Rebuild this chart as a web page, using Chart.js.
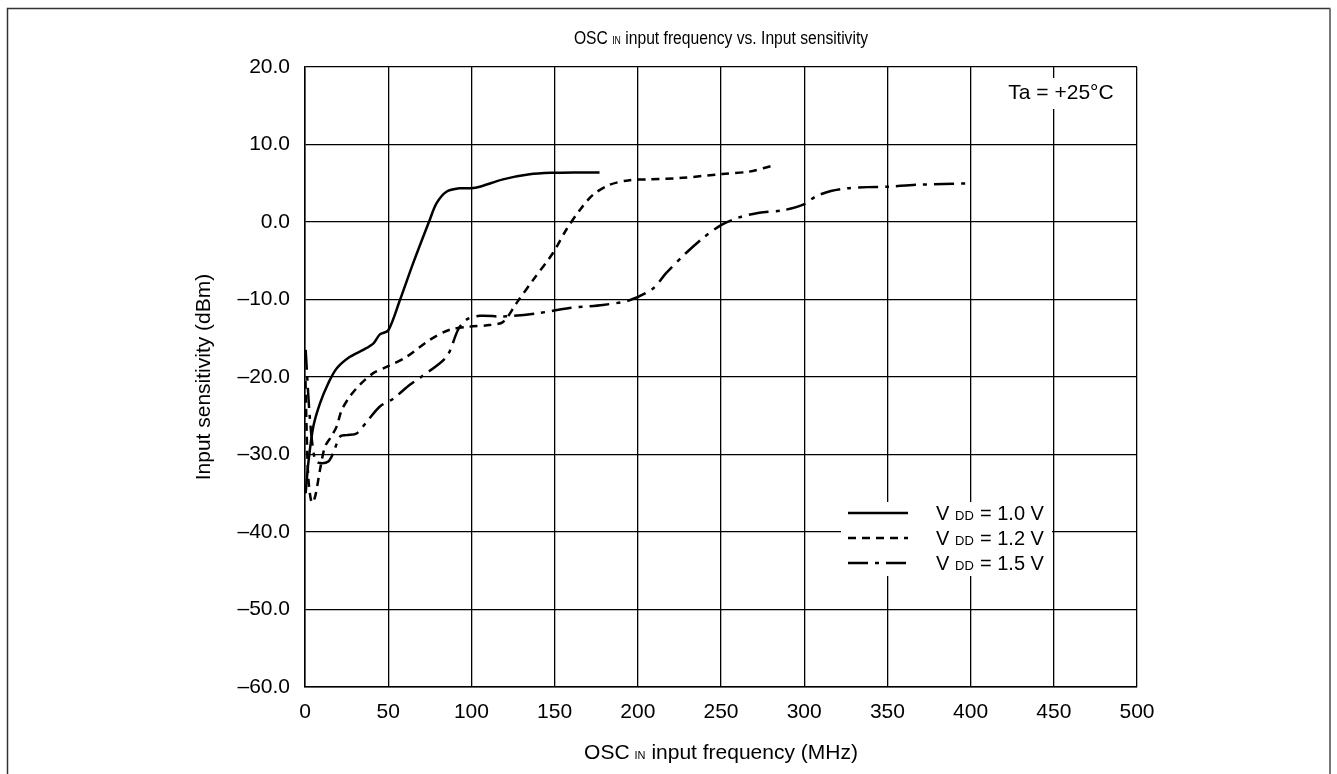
<!DOCTYPE html>
<html>
<head>
<meta charset="utf-8">
<script src="https://cdn.jsdelivr.net/npm/chart.js@4/dist/chart.umd.min.js"></script>
<style>
  html, body { margin: 0; padding: 0; background: #fff; }
  #wrap { width: 1337px; height: 774px; }
</style>
</head>
<body>
<div id="wrap"><canvas id="sensChart" width="1337" height="774"></canvas></div>
<script>
'use strict';

// values (MHz, dBm)
const vdd10Freq = [0.4, 2, 5, 9, 14, 19, 27, 35, 41, 45, 50, 57, 65, 75, 79, 85, 93, 100, 105, 119, 135, 149, 163, 177];
const vdd10Sens = [-35.0, -31.1, -26.4, -23.4, -20.8, -18.9, -17.4, -16.5, -15.7, -14.5, -14.0, -10.1, -5.3, 0.3, 2.4, 3.9, 4.35, 4.35, 4.55, 5.5, 6.15, 6.35, 6.4, 6.4];

const vdd12Freq = [0.3, 1, 2, 4, 6, 9, 12, 16, 19, 22, 27, 33, 41, 49, 61, 75, 87, 99, 111, 119, 127, 137, 149, 157, 165, 173, 183, 195, 207, 227, 251, 267, 280];
const vdd12Sens = [-20.5, -27, -33, -36.2, -35.5, -32, -29, -27.6, -26.4, -24.3, -22.5, -21, -19.5, -18.7, -17.4, -15.2, -13.9, -13.5, -13.3, -12.9, -10.5, -7.5, -4.0, -1.0, 1.5, 3.5, 4.8, 5.4, 5.5, 5.7, 6.2, 6.5, 7.2];

const vdd15Freq = [0.4, 3, 6, 9, 14, 17, 21, 25, 31, 37, 45, 53, 63, 69, 85, 92, 97, 105, 119, 139, 159, 179, 195, 209, 217, 229, 239, 250, 261, 273, 287, 299, 307, 316, 326, 338, 350, 367, 400];
const vdd15Sens = [-16.5, -25.5, -30.7, -31.1, -30.9, -29.8, -27.7, -27.5, -27.3, -25.8, -23.8, -22.8, -21, -20.1, -17.4, -13.9, -12.6, -12.1, -12.2, -11.8, -11.1, -10.7, -10.1, -8.6, -6.6, -4.0, -2.1, -0.4, 0.6, 1.2, 1.5, 2.2, 3.3, 4.0, 4.35, 4.5, 4.55, 4.8, 5.0];

const seriesLabels = ['1.0 V', '1.2 V', '1.5 V'];
const xTickValues = [0, 50, 100, 150, 200, 250, 300, 350, 400, 450, 500];
const yTickValues = [-60, -50, -40, -30, -20, -10, 0, 10, 20];
const yTickLabels = ['\u201360.0', '\u201350.0', '\u201340.0', '\u201330.0', '\u201320.0', '\u201310.0', '0.0', '10.0', '20.0'];

const FONT = '"Liberation Sans", Arial, sans-serif';

function toPoints(xs, ys) {
    return xs.map((x, i) => ({ x: x, y: ys[i] }));
}

// draws text made of pieces with different sizes, centred on cx
// squeeze < 1 narrows the text horizontally
function richText(ctx, parts, cx, cy, squeeze) {
    squeeze = squeeze || 1;
    let total = 0;
    parts.forEach(p => {
        ctx.font = p.size + 'px ' + FONT;
        total += ctx.measureText(p.text).width + (p.gap || 0);
    });
    ctx.save();
    ctx.translate(cx, cy);
    ctx.scale(squeeze, 1);
    let x = -total / 2;
    ctx.textAlign = 'left';
    ctx.textBaseline = 'alphabetic';
    parts.forEach(p => {
        ctx.font = p.size + 'px ' + FONT;
        ctx.fillText(p.text, x, 0);
        x += ctx.measureText(p.text).width + (p.gap || 0);
    });
    ctx.restore();
}

const decorPlugin = {
    id: 'decor',
    beforeDraw(chart) {
        const ctx = chart.ctx;
        ctx.save();
        ctx.fillStyle = '#fff';
        ctx.fillRect(0, 0, chart.width, chart.height);
        // outer frame
        ctx.strokeStyle = '#333';
        ctx.lineWidth = 1.5;
        ctx.beginPath();
        ctx.moveTo(7.5, 774);
        ctx.lineTo(7.5, 8.5);
        ctx.lineTo(1330.5, 8.5);
        ctx.stroke();
        ctx.strokeStyle = '#777';
        ctx.lineWidth = 2;
        ctx.beginPath();
        ctx.moveTo(1330, 8.5);
        ctx.lineTo(1330, 774);
        ctx.stroke();
        ctx.restore();
    },
    afterDraw(chart) {
        const ctx = chart.ctx;
        const area = chart.chartArea;
        const cx = (area.left + area.right) / 2;
        ctx.save();
        ctx.fillStyle = '#000';

        // chart title (narrower lettering in the reference)
        richText(ctx, [
            { text: 'OSC', size: 18, gap: 5 },
            { text: 'IN', size: 10, gap: 0 },
            { text: ' input frequency vs. Input sensitivity', size: 18 }
        ], cx, 44, 0.87);

        // x axis title
        richText(ctx, [
            { text: 'OSC', size: 21, gap: 5 },
            { text: 'IN', size: 11, gap: 0 },
            { text: ' input frequency (MHz)', size: 21 }
        ], cx, 759);

        // y axis title
        ctx.save();
        ctx.translate(204, (area.top + area.bottom) / 2);
        ctx.rotate(-Math.PI / 2);
        ctx.font = '21px ' + FONT;
        ctx.textAlign = 'center';
        ctx.textBaseline = 'middle';
        ctx.fillText('Input sensitivity (dBm)', 0, 0);
        ctx.restore();

        // temperature note
        ctx.fillStyle = '#fff';
        ctx.fillRect(976, 78, 155, 31);
        ctx.fillStyle = '#000';
        ctx.font = '21px ' + FONT;
        ctx.textAlign = 'center';
        ctx.textBaseline = 'middle';
        ctx.fillText('Ta = +25\u00b0C', 1061, 93);

        // legend
        ctx.fillStyle = '#fff';
        ctx.fillRect(841, 502, 211, 74);
        chart.data.datasets.forEach((ds, i) => {
            const y = 513 + i * 25;
            ctx.strokeStyle = '#000';
            ctx.lineWidth = ds.borderWidth;
            ctx.setLineDash(ds.borderDash || []);
            ctx.beginPath();
            ctx.moveTo(848, y);
            ctx.lineTo(908, y);
            ctx.stroke();
            ctx.setLineDash([]);
            ctx.fillStyle = '#000';
            ctx.textAlign = 'left';
            ctx.textBaseline = 'alphabetic';
            const base = y + 7;
            ctx.font = '20px ' + FONT;
            ctx.fillText('V', 936, base);
            ctx.font = '13px ' + FONT;
            ctx.fillText('DD', 955, base);
            ctx.font = '20px ' + FONT;
            ctx.fillText('= ' + seriesLabels[i], 980, base);
        });
        ctx.restore();
    }
};

const ctx = document.getElementById('sensChart').getContext('2d');
new Chart(ctx, {
    type: 'scatter',
    data: {
        datasets: [{
            label: 'VDD = ' + seriesLabels[0],
            data: toPoints(vdd10Freq, vdd10Sens),
            borderColor: '#000',
            borderWidth: 2.5,
            borderDash: []
        }, {
            label: 'VDD = ' + seriesLabels[1],
            data: toPoints(vdd12Freq, vdd12Sens),
            borderColor: '#000',
            borderWidth: 2.5,
            borderDash: [8, 6]
        }, {
            label: 'VDD = ' + seriesLabels[2],
            data: toPoints(vdd15Freq, vdd15Sens),
            borderColor: '#000',
            borderWidth: 2.5,
            borderDash: [20, 7, 4, 7]
        }]
    },
    options: {
        responsive: false,
        animation: false,
        showLine: true,
        elements: {
            point: { radius: 0, hoverRadius: 0 },
            line: { tension: 0.3, fill: false }
        },
        layout: { padding: { left: 0, top: 67, right: 200, bottom: 0 } },
        plugins: {
            legend: { display: false },
            tooltip: { enabled: false },
            title: { display: false }
        },
        scales: {
            x: {
                type: 'linear',
                min: 0,
                max: 500,
                afterFit: s => { s.height = 87; },
                afterBuildTicks: s => { s.ticks = xTickValues.map(v => ({ value: v })); },
                grid: { color: '#000', lineWidth: 1.3, drawTicks: false },
                border: { color: '#000', width: 1.5 },
                ticks: {
                    color: '#000',
                    padding: 13,
                    maxRotation: 0,
                    font: { family: FONT, size: 21 },
                    callback: v => String(v)
                }
            },
            y: {
                type: 'linear',
                min: -60,
                max: 20,
                afterFit: s => { s.width = 305; },
                afterBuildTicks: s => { s.ticks = yTickValues.map(v => ({ value: v })); },
                grid: { color: '#000', lineWidth: 1.3, drawTicks: false },
                border: { color: '#000', width: 1.5 },
                ticks: {
                    color: '#000',
                    padding: 15,
                    font: { family: FONT, size: 21 },
                    callback: v => yTickLabels[yTickValues.indexOf(v)]
                }
            }
        }
    },
    plugins: [decorPlugin]
});
</script>
</body>
</html>
